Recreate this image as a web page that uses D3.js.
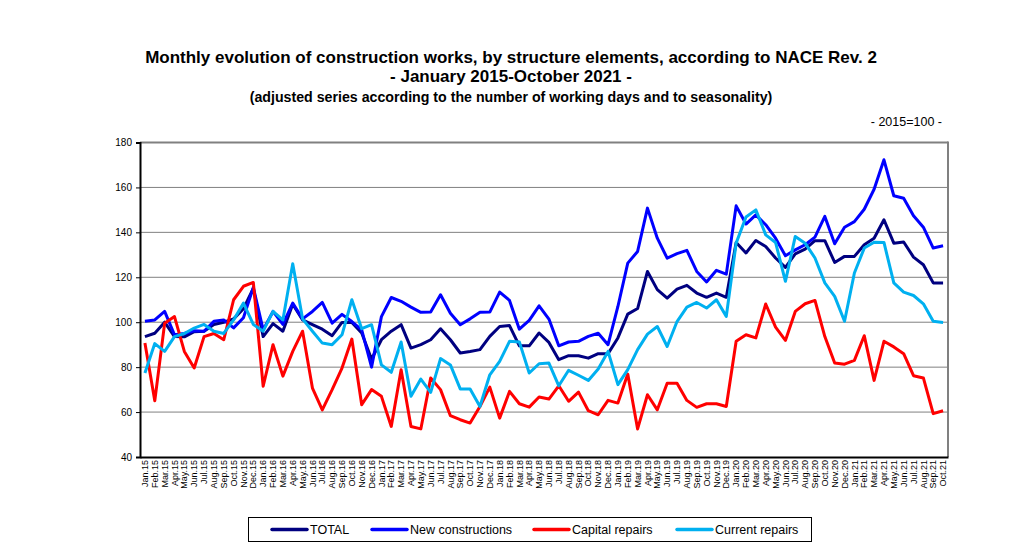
<!DOCTYPE html>
<html><head><meta charset="utf-8">
<script src="https://cdn.jsdelivr.net/npm/d3@7"></script>
<style>body{margin:0;background:#fff;font-family:"Liberation Sans",Arial,sans-serif;}</style>
</head><body><svg id="c" width="1019" height="559"></svg>
<script>
const monthNames = ["Jan","Feb","Mar","Apr","May","Jun","Jul","Aug","Sep","Oct","Nov","Dec"];
const years = ["15","16","17","18","19","20","21"];
const categories = [];
years.forEach(y => monthNames.forEach(m => categories.push(m + "." + y)));
categories.length = 82;

const total = [93.6,95.1,100,93.6,93.5,95.8,96,99,100,101.5,106,115,93.6,99.4,96,108,101,98.9,96.9,94,99.9,99.9,95.2,83.5,92.2,96,98.9,88.5,90,92.2,97.1,92.2,86.3,87,87.8,93.7,98.1,98.5,89.5,89.5,95.2,91,83.3,85.1,85.1,84,86,86,93,103.6,106.1,122.6,114.5,110.7,114.7,116.4,113,111.1,113,111.1,135.5,130.8,136.4,133.7,128.6,124.4,130.4,132.5,136.3,136.3,126.6,129.3,129.3,134.5,137.4,145.6,135.2,135.7,129,125.6,117.5,117.5];
const newConstr = [100.4,101,104.8,94.4,95,96.2,96,100.4,101,97.5,102,115.5,96.6,104.8,99,108.5,101.5,104.8,108.8,99.6,103.5,100.3,96.6,80,102.5,111,109.3,106.7,104.4,104.5,112.2,104,98.9,101.5,104.4,104.5,113.4,109.7,96.9,100.8,107.3,101.4,89.5,91.2,91.5,93.7,95.1,90,107,126.3,131.5,150.8,137.4,128.5,130.5,132,122.6,117.9,123.1,121.4,151.8,143.7,147.8,143.4,137.4,129.6,132.2,134.5,137.9,147.1,134.9,142.3,144.8,150.3,159.2,172.3,156.3,155.2,147.4,142.3,133,134];
const capital = [90.7,65,99.5,102.5,87,79.6,93.6,95,92.2,110,116,117.7,71.5,90,76,87,96,70.7,61,70,79.6,92.5,63.3,70,67,53.6,78.8,53.6,52.5,75.2,70,58.4,56.6,55.1,62.5,71.1,57.3,69.2,63.7,62.2,66.7,65.8,71.7,64.8,68.9,60.6,58.8,65.2,64,76.9,52.5,67.7,61,72.8,72.8,65.2,62.1,63.7,63.7,62.5,91.5,94.4,93,108.1,97.8,91.9,104.8,108.2,109.7,93.6,81.8,81.3,83,94,74.1,91.5,89,86,76.2,75.2,59.3,60.6];
const current = [77.4,90.5,87,93.6,95,97.4,99,96,95,101,108.5,99,96,104.8,101,126,101.5,96,90.7,90,94.4,110,97.1,98.9,81,77.7,91.2,67,74.7,68.8,83.8,81,70.3,70.3,62.5,76.6,82.6,91.5,91.2,77.4,81.5,81.8,71.7,78.6,76.4,74.1,79.2,87,72.2,78.9,87.8,94.7,98.1,89.2,100.3,106.7,108.8,106.3,110,102.6,135.2,146.8,150,138.9,135.5,118.2,138.2,135.2,128.6,117.5,111.5,100.4,121.9,133,135.6,135.5,117.5,113.4,111.9,108.2,100.4,99.9];
const yTicks = [40,60,80,100,120,140,160,180];
const seriesNames = ["TOTAL","New constructions","Capital repairs","Current repairs"];
const seriesColors = ["#000080","#0000ff","#ff0000","#00b0f0"];
const seriesData = [total,newConstr,capital,current];

const svg = d3.select("#c");
const L = 140, R = 948, T = 142.5, B = 457;
const x = d3.scaleBand().domain(categories).range([L, R]).padding(0);
const y = d3.scaleLinear().domain([40,180]).range([B, T]);

// titles
svg.append("text").attr("x",511).attr("y",63).attr("text-anchor","middle")
  .attr("font-size",17).attr("font-weight","bold").text("Monthly evolution of construction works, by structure elements, according to NACE Rev. 2");
svg.append("text").attr("x",511).attr("y",82).attr("text-anchor","middle")
  .attr("font-size",17).attr("font-weight","bold").text("- January 2015-October 2021 -");
svg.append("text").attr("x",511).attr("y",102).attr("text-anchor","middle")
  .attr("font-size",14.2).attr("font-weight","bold").text("(adjusted series according to the number of working days and to seasonality)");
svg.append("text").attr("x",942).attr("y",126).attr("text-anchor","end")
  .attr("font-size",12.5).text("- 2015=100 -");

// gridlines
svg.append("g").selectAll("line").data(yTicks.filter(d=>d>40)).join("line")
  .attr("x1",L).attr("x2",R).attr("y1",d=>y(d)).attr("y2",d=>y(d))
  .attr("stroke","#808080").attr("stroke-width",d=>d===180?2:1);
svg.append("line").attr("x1",R).attr("x2",R).attr("y1",T-1).attr("y2",B)
  .attr("stroke","#808080").attr("stroke-width",2);

// y axis
const ya = svg.append("g").attr("transform",`translate(${L},0)`)
  .call(d3.axisLeft(y).tickValues(yTicks).tickSize(4).tickPadding(4));
ya.select(".domain").attr("stroke","#000").attr("stroke-width",2);
ya.selectAll("text").attr("font-size",10).attr("font-family","Liberation Sans, Arial, sans-serif").attr("fill","#000");

// x axis
const xa = svg.append("g").attr("transform",`translate(0,${B})`)
  .call(d3.axisBottom(x).tickSize(0).tickSizeOuter(0));
xa.select(".domain").attr("stroke","#000").attr("stroke-width",2);
xa.selectAll("text").attr("font-size",9).attr("font-family","Liberation Sans, Arial, sans-serif").attr("fill","#000")
  .attr("transform","rotate(-90)").attr("text-anchor","end").attr("x",-3).attr("y",0).attr("dy","0.35em").attr("dx",0);

// lines
const line = d3.line().x((d,i)=>x(categories[i])+x.bandwidth()/2).y(d=>y(d));
seriesData.forEach((s,k)=>{
  svg.append("path").datum(s).attr("d",line).attr("fill","none")
    .attr("stroke",seriesColors[k]).attr("stroke-width",3).attr("stroke-linejoin","round");
});

// legend
svg.append("rect").attr("x",248.5).attr("y",517.5).attr("width",563).attr("height",24)
  .attr("fill","#fff").attr("stroke","#000").attr("stroke-width",1);
const legX = [[272,307,310],[372,407,410],[534,569,572],[677,712,715]];
seriesNames.forEach((n,k)=>{
  svg.append("line").attr("x1",legX[k][0]).attr("x2",legX[k][1]).attr("y1",529.5).attr("y2",529.5)
    .attr("stroke",seriesColors[k]).attr("stroke-width",3.5).attr("stroke-linecap","round");
  svg.append("text").attr("x",legX[k][2]).attr("y",534).attr("font-size",12.5).text(n);
});
</script></body></html>
